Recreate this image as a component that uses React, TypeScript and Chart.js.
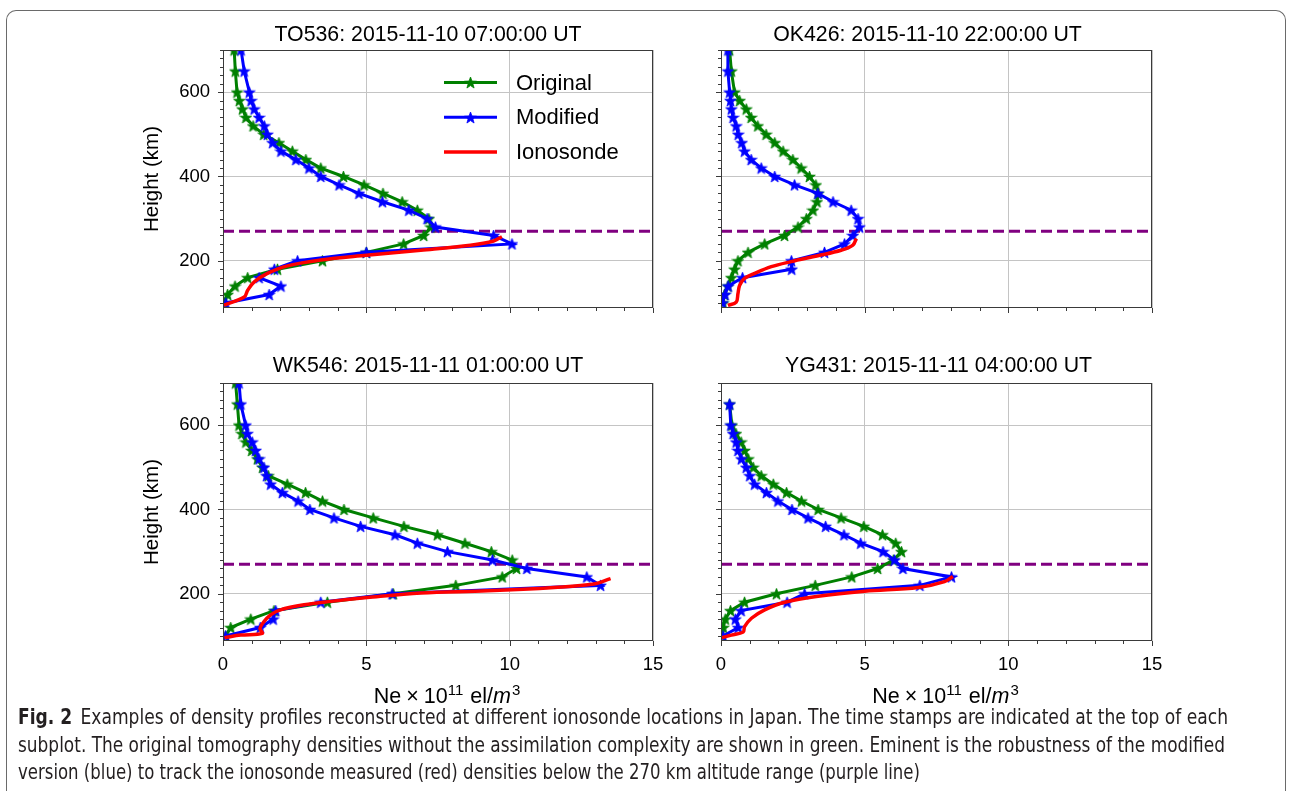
import React, { useEffect, useLayoutEffect, useRef } from "react";
import { Chart, registerables } from "chart.js";

Chart.register(...registerables);

// ---------------- data ----------------
const heights = [700, 650, 600, 580, 560, 540, 520, 500, 480, 460, 440, 420, 400, 380, 360, 340, 320, 300, 280, 260, 240, 220, 200, 180, 160, 140, 120, 100];
const heightsYG431 = [650, 600, 580, 560, 540, 520, 500, 480, 460, 440, 420, 400, 380, 360, 340, 320, 300, 280, 260, 240, 220, 200, 180, 160, 140, 120, 100];

const originalTO536 = [0.39, 0.43, 0.49, 0.57, 0.68, 0.8, 1.05, 1.42, 1.95, 2.42, 2.89, 3.41, 4.2, 4.92, 5.58, 6.25, 6.78, 7.18, 7.25, 7.0, 6.3, 5.0, 3.47, 1.9, 0.86, 0.42, 0.16, 0.05];
const modifiedTO536 = [0.63, 0.74, 0.92, 0.98, 1.09, 1.26, 1.44, 1.55, 1.73, 2.02, 2.54, 3.0, 3.41, 4.05, 4.74, 5.56, 6.48, 7.12, 7.41, 9.44, 10.08, 5.0, 2.6, 1.79, 1.26, 2.02, 1.61, 0.1];
const ionoHeightsTO536 = [95, 114, 130, 150, 170, 188, 202, 213, 225, 237, 247, 257];
const ionoDensityTO536 = [0.03, 0.74, 0.86, 1.09, 1.55, 2.25, 3.41, 5.0, 6.9, 8.63, 9.44, 9.73];

const originalOK426 = [0.3, 0.36, 0.47, 0.65, 0.88, 1.05, 1.28, 1.57, 1.87, 2.16, 2.5, 2.79, 3.08, 3.3, 3.38, 3.34, 3.2, 2.97, 2.68, 2.21, 1.52, 0.94, 0.59, 0.47, 0.36, 0.24, 0.12, 0.07];
const modifiedOK426 = [0.24, 0.24, 0.3, 0.33, 0.36, 0.42, 0.53, 0.6, 0.72, 0.82, 1.05, 1.4, 1.87, 2.56, 3.37, 3.9, 4.53, 4.77, 4.82, 4.59, 4.3, 3.6, 2.45, 2.46, 0.75, 0.25, 0.14, 0.05];
const ionoHeightsOK426 = [94, 102, 122, 142, 158, 170, 186, 198, 212, 225, 237, 253];
const ionoDensityOK426 = [0.24, 0.53, 0.59, 0.65, 0.82, 1.17, 1.75, 2.44, 3.37, 4.18, 4.59, 4.71];

const originalWK546 = [0.44, 0.5, 0.56, 0.66, 0.8, 1.0, 1.2, 1.38, 1.58, 2.24, 2.88, 3.47, 4.22, 5.24, 6.31, 7.48, 8.44, 9.36, 10.09, 10.24, 9.74, 8.12, 5.94, 3.64, 1.78, 0.97, 0.27, 0.09];
const modifiedWK546 = [0.56, 0.62, 0.79, 0.85, 1.02, 1.14, 1.26, 1.43, 1.52, 1.66, 2.07, 2.62, 3.03, 3.87, 4.8, 6.0, 6.78, 7.83, 9.4, 10.6, 12.69, 13.17, 5.9, 3.41, 1.84, 1.75, 1.3, 0.09];
const ionoHeightsWK546 = [96, 102, 106, 117, 134, 150, 162, 174, 182, 191, 202, 207, 215, 223, 236];
const ionoDensityWK546 = [0.05, 0.62, 1.37, 1.29, 1.43, 1.66, 2.0, 2.83, 3.76, 5.03, 6.9, 9.22, 11.55, 12.94, 13.52];

const originalYG431 = [0.3, 0.38, 0.52, 0.7, 0.82, 0.95, 1.12, 1.4, 1.82, 2.28, 2.8, 3.38, 4.18, 4.97, 5.62, 6.08, 6.28, 6.0, 5.45, 4.55, 3.28, 1.93, 0.82, 0.33, 0.15, 0.08, 0.05];
const modifiedYG431 = [0.3, 0.34, 0.42, 0.53, 0.59, 0.71, 0.88, 1.0, 1.17, 1.58, 1.98, 2.47, 3.03, 3.64, 4.28, 4.86, 5.64, 6.04, 6.33, 8.02, 6.92, 2.91, 2.3, 0.7, 0.5, 0.6, 0.07];
const ionoHeightsYG431 = [96, 102, 109, 122, 142, 162, 180, 194, 206, 215, 229, 241];
const ionoDensityYG431 = [0.03, 0.36, 0.77, 0.82, 1.06, 1.52, 2.22, 3.38, 5.0, 6.86, 7.78, 8.07];

const referenceHeight = 270;
const xMajorTicks = [0, 5, 10, 15];
const yMajorTicks = [200, 400, 600];
const xMinorStep = 1;
const yMinorStep = 20;
const xRange = [0, 15];
const yRange = [88, 700];
const seriesLabels = ["Original", "Modified", "Ionosonde"];

// ---------------- styles ----------------
const FONT = '"Liberation Sans", Arimo, Arial, sans-serif';
const GREEN = "#008000";
const BLUE = "#0000ff";
const RED = "#ff0000";
const PURPLE = "#800080";
const GRID = "#c4c4c4";
const AXIS = "#3a3a3a";
const RIGHT_PAD = 14;
const TITLE_BOX = 40;

function makeStar(color: string) {
  const s = 13;
  const c = document.createElement("canvas");
  c.width = s;
  c.height = s;
  const g = c.getContext("2d")!;
  const R = 6.1, r = 2.5, cx = s / 2, cy = s / 2 + 0.6;
  g.beginPath();
  for (let i = 0; i < 10; i++) {
    const a = -Math.PI / 2 + (i * Math.PI) / 5;
    const rad = i % 2 === 0 ? R : r;
    g.lineTo(cx + rad * Math.cos(a), cy + rad * Math.sin(a));
  }
  g.closePath();
  g.fillStyle = color;
  g.fill();
  g.lineWidth = 0.8;
  g.strokeStyle = color;
  g.stroke();
  return c;
}

const decor = {
  id: "decor",
  afterDraw(chart: any, _args: any, o: any) {
    const { ctx, chartArea: a, scales } = chart;
    const x = scales.x, y = scales.y;
    ctx.save();
    // tick marks (major and minor, outward)
    ctx.strokeStyle = AXIS;
    ctx.lineWidth = 1;
    ctx.beginPath();
    x.ticks.forEach((t: any) => {
      const px = Math.round(x.getPixelForValue(t.value)) + 0.5;
      const len = xMajorTicks.includes(t.value) ? 5 : 3;
      ctx.moveTo(px, a.bottom);
      ctx.lineTo(px, a.bottom + len);
    });
    y.ticks.forEach((t: any) => {
      const py = Math.round(y.getPixelForValue(t.value)) + 0.5;
      const len = yMajorTicks.includes(t.value) ? 5 : 3;
      ctx.moveTo(a.left, py);
      ctx.lineTo(a.left - len, py);
    });
    ctx.stroke();
    // frame
    ctx.strokeRect(Math.round(a.left) + 0.5, Math.round(a.top) + 0.5, Math.round(a.right - a.left) - 1, Math.round(a.bottom - a.top) - 1);

    // panel title
    if (o.title) {
      ctx.fillStyle = "#000";
      ctx.font = `21.3px ${FONT}`;
      ctx.textAlign = "center";
      ctx.textBaseline = "middle";
      ctx.fillText(o.title, (a.left + a.right) / 2 + o.titleShift, a.top - TITLE_BOX + o.titleCenter);
    }

    // x axis title with superscripts
    if (o.xTitle) {
      const base = 21.5;
      const sup = 15;
      const parts = [
        { t: "Ne", f: `${base}px ${FONT}`, dy: 0, pl: 0, pr: 0 },
        { t: "\u00d7", f: `${base}px ${FONT}`, dy: 0, pl: 5, pr: 5 },
        { t: "10", f: `${base}px ${FONT}`, dy: 0, pl: 0, pr: 0 },
        { t: "11", f: `${sup}px ${FONT}`, dy: -8, pl: 0, pr: 1 },
        { t: " el/", f: `${base}px ${FONT}`, dy: 0, pl: 0, pr: 0 },
        { t: "m", f: `italic ${base}px ${FONT}`, dy: 0, pl: 0, pr: 0 },
        { t: "3", f: `${sup}px ${FONT}`, dy: -8, pl: 1, pr: 0 },
      ];
      let total = 0;
      const widths = parts.map((p) => {
        ctx.font = p.f;
        const w = ctx.measureText(p.t).width + p.pl + p.pr;
        total += w;
        return w;
      });
      let cx = (a.left + a.right) / 2 + o.xTitleShift - total / 2;
      const baseY = a.bottom + 62;
      ctx.fillStyle = "#000";
      ctx.textBaseline = "alphabetic";
      ctx.textAlign = "left";
      parts.forEach((p, i) => {
        ctx.font = p.f;
        ctx.fillText(p.t, cx + p.pl, baseY + p.dy);
        cx += widths[i];
      });
    }

    // legend inside the first panel
    if (o.legend) {
      const ds = chart.data.datasets;
      seriesLabels.forEach((label, i) => {
        const d = ds.find((dd: any) => dd.label === label);
        if (!d) return;
        const rowY = a.top + 32.5 + i * 34.7;
        const x0 = a.left + 221, x1 = a.left + 274;
        ctx.strokeStyle = d.borderColor;
        ctx.lineWidth = d.borderWidth;
        ctx.setLineDash([]);
        ctx.beginPath();
        ctx.moveTo(x0, rowY);
        ctx.lineTo(x1, rowY);
        ctx.stroke();
        if (d.pointStyle && typeof d.pointStyle === "object") {
          const st = d.pointStyle;
          ctx.drawImage(st, Math.round((x0 + x1) / 2 - st.width / 2), Math.round(rowY - st.height / 2));
        }
        ctx.fillStyle = "#000";
        ctx.font = `22px ${FONT}`;
        ctx.textBaseline = "middle";
        ctx.textAlign = "left";
        ctx.fillText(label, a.left + 293, rowY + 1);
      });
    }
    ctx.restore();
  },
};

type PanelProps = {
  left: number;
  top: number;
  width: number;
  height: number;
  title: string;
  titleCenter: number;
  titleShift: number;
  yAxisWidth: number;
  xAxisHeight: number;
  showYLabels: boolean;
  showXLabels: boolean;
  legend: boolean;
  heights: number[];
  original: number[];
  modified: number[];
  ionoHeights: number[];
  ionoDensity: number[];
};

function Panel(p: PanelProps) {
  const ref = useRef<HTMLCanvasElement>(null);
  const canvasWidth = p.width + RIGHT_PAD;
  useEffect(() => {
    const starG = makeStar(GREEN);
    const starB = makeStar(BLUE);
    const pts = (xs: number[], ys: number[]) => xs.map((v, i) => ({ x: v, y: ys[i] }));
    const xTickValues: number[] = [];
    for (let v = xRange[0]; v <= xRange[1]; v += xMinorStep) xTickValues.push(v);
    const yTickValues: number[] = [];
    for (let v = 100; v <= yRange[1]; v += yMinorStep) yTickValues.push(v);

    const chart = new Chart(ref.current!, {
      type: "line",
      data: {
        datasets: [
          { label: seriesLabels[2], data: pts(p.ionoDensity, p.ionoHeights), borderColor: RED, backgroundColor: RED, borderWidth: 3.5, pointRadius: 0, tension: 0.35, order: 0 },
          { label: seriesLabels[1], data: pts(p.modified, p.heights), borderColor: BLUE, backgroundColor: BLUE, borderWidth: 3, pointStyle: starB, pointRadius: 5, tension: 0, order: 1 },
          { label: seriesLabels[0], data: pts(p.original, p.heights), borderColor: GREEN, backgroundColor: GREEN, borderWidth: 3, pointStyle: starG, pointRadius: 5, tension: 0, order: 2 },
          { label: "270 km", data: [{ x: xRange[0], y: referenceHeight }, { x: xRange[1], y: referenceHeight }], borderColor: PURPLE, borderWidth: 3, borderDash: [11, 5], pointRadius: 0, order: 3 },
        ],
      } as any,
      options: {
        animation: false,
        responsive: false,
        events: [],
        layout: { padding: { left: 0, top: TITLE_BOX, bottom: 0, right: RIGHT_PAD } },
        plugins: {
          legend: { display: false },
          tooltip: { enabled: false },
          title: { display: false },
          decor: { legend: p.legend, xTitle: p.showXLabels, xTitleShift: 9, title: p.title, titleShift: p.titleShift, titleCenter: p.titleCenter },
        } as any,
        scales: {
          x: {
            type: "linear",
            min: xRange[0],
            max: xRange[1],
            afterBuildTicks: (s: any) => {
              s.ticks = xTickValues.map((v) => ({ value: v }));
            },
            afterFit: (s: any) => {
              s.height = p.xAxisHeight;
              s.paddingLeft = 0;
              s.paddingRight = 0;
            },
            ticks: {
              display: p.showXLabels,
              autoSkip: false,
              maxRotation: 0,
              padding: 13,
              color: "#000",
              font: { family: FONT, size: 18.5 },
              callback: (v: any) => (xMajorTicks.includes(v) ? String(v) : ""),
            },
            grid: {
              drawTicks: false,
              lineWidth: 1,
              color: (c: any) => (c.tick && xMajorTicks.includes(c.tick.value) ? GRID : "rgba(0,0,0,0)"),
            },
            border: { display: false },
          },
          y: {
            type: "linear",
            min: yRange[0],
            max: yRange[1],
            afterBuildTicks: (s: any) => {
              s.ticks = yTickValues.map((v) => ({ value: v }));
            },
            afterFit: (s: any) => {
              s.width = p.yAxisWidth;
              s.paddingTop = 0;
              s.paddingBottom = 0;
            },
            ticks: {
              display: p.showYLabels,
              autoSkip: false,
              padding: 13,
              color: "#000",
              font: { family: FONT, size: 18.5 },
              callback: (v: any) => (yMajorTicks.includes(v) ? String(v) : ""),
            },
            grid: {
              drawTicks: false,
              lineWidth: 1,
              color: (c: any) => (c.tick && yMajorTicks.includes(c.tick.value) ? GRID : "rgba(0,0,0,0)"),
            },
            border: { display: false },
            title: {
              display: p.showYLabels,
              text: "Height (km)",
              color: "#000",
              font: { family: FONT, size: 20.5, lineHeight: 1.2 },
              padding: { top: 12, bottom: 0 },
            },
          },
        },
      } as any,
      plugins: [decor],
    });
    return () => chart.destroy();
  }, []);
  return (
    <canvas
      ref={ref}
      width={canvasWidth}
      height={p.height}
      style={{ position: "absolute", left: p.left, top: p.top, width: canvasWidth, height: p.height }}
    />
  );
}

function CaptionLine(props: { top: number; target: number; children: React.ReactNode }) {
  const ref = useRef<HTMLDivElement>(null);
  useLayoutEffect(() => {
    const el = ref.current!;
    el.style.transform = "none";
    const w = el.getBoundingClientRect().width;
    if (w > 0) el.style.transform = `scaleX(${props.target / w})`;
  }, []);
  return (
    <div
      ref={ref}
      style={{
        position: "absolute",
        left: 18,
        top: props.top,
        whiteSpace: "nowrap",
        display: "inline-block",
        transformOrigin: "0 0",
        fontFamily: '"Liberation Sans Narrow", "DejaVu Sans Condensed", "Open Sans", "Liberation Sans", sans-serif',
        fontStretch: "condensed",
        fontSize: 20.5,
        lineHeight: "27px",
        color: "#231f20",
      }}
    >
      {props.children}
    </div>
  );
}

export default function App() {
  const top1 = 10, top2 = 343;
  const left1 = 128, left2 = 700;
  return (
    <div style={{ position: "absolute", left: 0, top: 0, width: 1291, height: 791, overflow: "hidden", background: "#fff" }}>
      <div
        style={{
          position: "absolute",
          left: 6,
          top: 10,
          width: 1280,
          height: 781,
          boxSizing: "border-box",
          borderTop: "1px solid #6a6a6a",
          borderLeft: "1px solid #6a6a6a",
          borderRight: "1px solid #6a6a6a",
          borderRadius: "10px 10px 0 0",
        }}
      />
      <Panel left={left1} top={top1} width={525} height={308} title="TO536: 2015-11-10 07:00:00 UT" titleCenter={25} titleShift={-10} yAxisWidth={95} xAxisHeight={10} showYLabels={true} showXLabels={false} legend={true}
        heights={heights} original={originalTO536} modified={modifiedTO536} ionoHeights={ionoHeightsTO536} ionoDensity={ionoDensityTO536} />
      <Panel left={left2} top={top1} width={452} height={308} title="OK426: 2015-11-10 22:00:00 UT" titleCenter={25} titleShift={-9} yAxisWidth={21} xAxisHeight={10} showYLabels={false} showXLabels={false} legend={false}
        heights={heights} original={originalOK426} modified={modifiedOK426} ionoHeights={ionoHeightsOK426} ionoDensity={ionoDensityOK426} />
      <Panel left={left1} top={top2} width={525} height={369} title="WK546: 2015-11-11 01:00:00 UT" titleCenter={23} titleShift={-10} yAxisWidth={95} xAxisHeight={71} showYLabels={true} showXLabels={true} legend={false}
        heights={heights} original={originalWK546} modified={modifiedWK546} ionoHeights={ionoHeightsWK546} ionoDensity={ionoDensityWK546} />
      <Panel left={left2} top={top2} width={452} height={369} title="YG431: 2015-11-11 04:00:00 UT" titleCenter={23} titleShift={2} yAxisWidth={21} xAxisHeight={71} showYLabels={false} showXLabels={true} legend={false}
        heights={heightsYG431} original={originalYG431} modified={modifiedYG431} ionoHeights={ionoHeightsYG431} ionoDensity={ionoDensityYG431} />
      <CaptionLine top={704} target={1210}>
        <b style={{ marginRight: 9 }}>Fig. 2</b>Examples of density profiles reconstructed at different ionosonde locations in Japan. The time stamps are indicated at the top of each
      </CaptionLine>
      <CaptionLine top={732} target={1207}>
        subplot. The original tomography densities without the assimilation complexity are shown in green. Eminent is the robustness of the modified
      </CaptionLine>
      <CaptionLine top={759} target={902}>
        version (blue) to track the ionosonde measured (red) densities below the 270 km altitude range (purple line)
      </CaptionLine>
    </div>
  );
}
